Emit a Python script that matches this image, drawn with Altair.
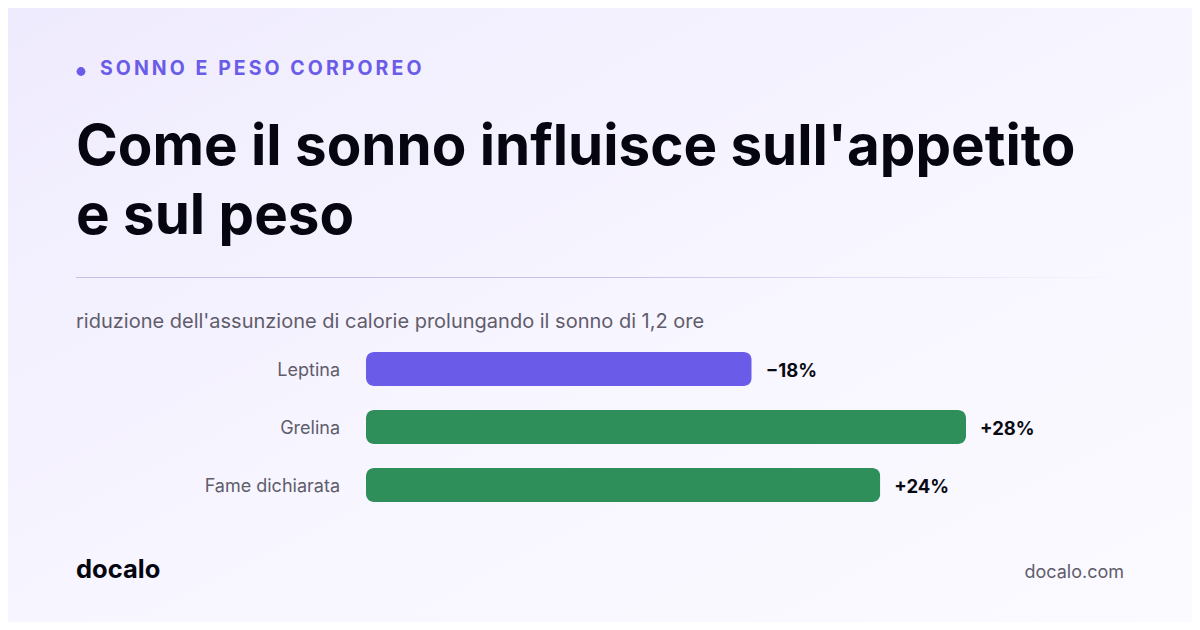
import altair as alt
import pandas as pd

# values
categories = ["Leptina", "Grelina", "Fame dichiarata"]
values = [18, 28, 24]
value_labels = ["\u221218%", "+28%", "+24%"]
bar_colors = ["#6A5CE8", "#2F8F5B", "#2F8F5B"]

eyebrow = "SONNO E PESO CORPOREO"
title_lines = ["Come il sonno influisce sull'appetito", "e sul peso"]
subtitle = "riduzione dell'assunzione di calorie prolungando il sonno di 1,2 ore"
brand = "docalo"
site = "docalo.com"

FONT = "Inter"
W, H = 1184, 614
M = 8  # page margin, everything below is written in page pixels minus this


def label(text, x, y, size, color, weight="normal", align="left"):
    return (
        alt.Chart(pd.DataFrame({"t": [text]}))
        .mark_text(font=FONT, fontSize=size, fontWeight=weight, color=color, align=align, baseline="alphabetic")
        .encode(x=alt.value(x - M), y=alt.value(y - M), text="t:N")
    )


one = pd.DataFrame({"a": [0]})

background = (
    alt.Chart(one)
    .mark_rect(
        color=alt.LinearGradient(
            gradient="linear", x1=0, y1=0, x2=1, y2=1,
            stops=[
                alt.GradientStop(color="#EFEBFE", offset=0),
                alt.GradientStop(color="#F7F5FF", offset=0.5),
                alt.GradientStop(color="#FBFAFF", offset=1),
            ],
        )
    )
    .encode(x=alt.value(0), x2=alt.value(W), y=alt.value(0), y2=alt.value(H))
)

divider = (
    alt.Chart(one)
    .mark_rect(
        color=alt.LinearGradient(
            gradient="linear", x1=0, y1=0, x2=1, y2=0,
            stops=[
                alt.GradientStop(color="#C6BFEE", offset=0),
                alt.GradientStop(color="#C6BFEE", offset=0.5),
                alt.GradientStop(color="#F8F6FF", offset=1),
            ],
        )
    )
    .encode(x=alt.value(76 - M), x2=alt.value(1124 - M), y=alt.value(277 - M), y2=alt.value(278 - M))
)

dot = (
    alt.Chart(one)
    .mark_point(filled=True, shape="circle", size=78, color="#6A5CE8", opacity=1)
    .encode(x=alt.value(81 - M), y=alt.value(71.5 - M))
)

df = pd.DataFrame({"name": categories, "value": values, "text": value_labels, "color": bar_colors})
xs = alt.Scale(domain=[0, 28], range=[366 - M, 966 - M])
ys = alt.Scale(domain=categories, range=[352 - M, 502 - M], paddingInner=24 / 58, paddingOuter=0)
base = alt.Chart(df).encode(y=alt.Y("name:N", scale=ys, axis=None))

bars = base.mark_bar(cornerRadius=8).encode(
    x=alt.X("value:Q", scale=xs, axis=None),
    color=alt.Color("color:N", scale=None, legend=None),
)
names = base.mark_text(font=FONT, fontSize=18, color="#5F5D6B", align="right", baseline="middle", dy=1.5).encode(
    x=alt.value(340 - M), text="name:N"
)
nums = base.mark_text(font=FONT, fontSize=18.5, fontWeight=700, color="#0A0A12", align="left", baseline="middle", dx=14, dy=1.5).encode(
    x=alt.X("value:Q", scale=xs, axis=None), text="text:N"
)

chart = alt.layer(
    background,
    dot,
    label("\u2009".join(eyebrow), 100, 75, 19.5, "#6A5CE8", 700),
    label(title_lines[0], 76, 165, 56.5, "#05060F", 700),
    label(title_lines[1], 76, 234, 56.5, "#05060F", 700),
    divider,
    label(subtitle, 76, 328, 20, "#5F5D6B"),
    bars,
    names,
    nums,
    label(brand, 76, 578, 25.5, "#05060F", 700),
    label(site, 1124, 578, 18, "#5F5D6B", align="right"),
).properties(
    width=W, height=H, padding=0, background="#F7F5FF",
    autosize=alt.AutoSizeParams(type="none"),
).configure_view(stroke=None)

chart.save("out.html", embed_options={"renderer": "svg", "actions": False})
